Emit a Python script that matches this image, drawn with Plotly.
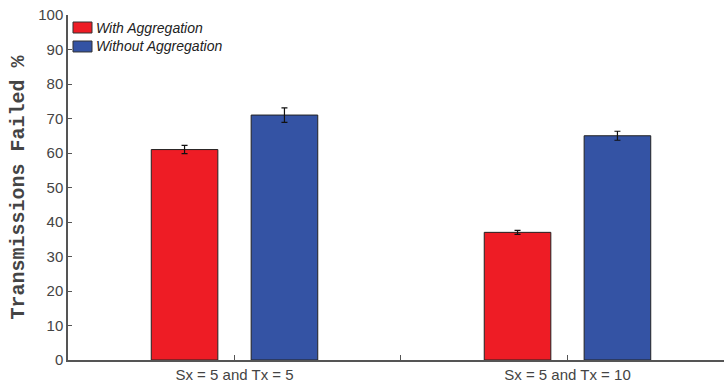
import plotly.graph_objects as go

categories = ["Sx = 5 and Tx = 5", "Sx = 5 and Tx = 10"]
with_agg = [61, 37]
with_agg_err = [1.2, 0.6]
without_agg = [71, 65]
without_agg_err = [2.1, 1.3]

series_names = ["With Aggregation", "Without Aggregation"]
series_colors = ["#EE1C25", "#3453A4"]

xpos = [i + 1 for i in range(len(categories))]

fig = go.Figure()
for name, vals, errs, col in zip(series_names, [with_agg, without_agg],
                                 [with_agg_err, without_agg_err], series_colors):
    fig.add_trace(go.Bar(
        x=xpos, y=vals, name=name,
        marker=dict(color=col, line=dict(color="#222222", width=1)),
        error_y=dict(type="data", array=errs, color="#111111", thickness=1.2, width=3),
        showlegend=False,
    ))

# legend drawn manually (wide swatches, as in the reference)
sw_x0, sw_x1 = 0.0076, 0.0366
rows = [(0.9797, 0.9478), (0.9246, 0.8928)]
for (y1, y0), name, col in zip(rows, series_names, series_colors):
    fig.add_shape(type="rect", xref="x domain", yref="y domain",
                  x0=sw_x0, x1=sw_x1, y0=y0, y1=y1,
                  fillcolor=col, line=dict(color="#333333", width=1))
    fig.add_annotation(xref="x domain", yref="y domain", x=0.0396, y=(y0 + y1) / 2,
                       xanchor="left", yanchor="middle", showarrow=False, text=name,
                       font=dict(family="Liberation Sans, Arial", size=14, color="#222222",
                                 style="italic"))

fig.update_layout(
    width=724, height=387,
    margin=dict(l=68, r=0, t=15, b=27),
    paper_bgcolor="white", plot_bgcolor="white",
    barmode="group", bargap=0.4, bargroupgap=1/3,
    font=dict(family="Liberation Sans, Arial", size=15, color="#444444"),
    showlegend=False,
)
fig.update_xaxes(
    range=[0.5, 2.47],
    tickvals=[1, 1.5, 2], ticktext=[categories[0], "", categories[1]],
    ticks="inside", ticklen=5, tickcolor="#555555",
    showline=True, linecolor="#555555", linewidth=1.5,
    showgrid=False, zeroline=False,
    tickfont=dict(size=15, color="#444444"),
)
fig.update_yaxes(
    range=[0, 100], dtick=10,
    ticks="inside", ticklen=4, tickcolor="#555555",
    showline=True, linecolor="#555555", linewidth=1.5,
    showgrid=False, zeroline=False,
    tickfont=dict(size=15, color="#444444"),
    title=dict(text="Transmissions Failed %",
               font=dict(family="Liberation Mono, Courier New", size=20, color="#444444",
                         weight="bold"),
               standoff=8),
)

fig.write_html("out.html")
